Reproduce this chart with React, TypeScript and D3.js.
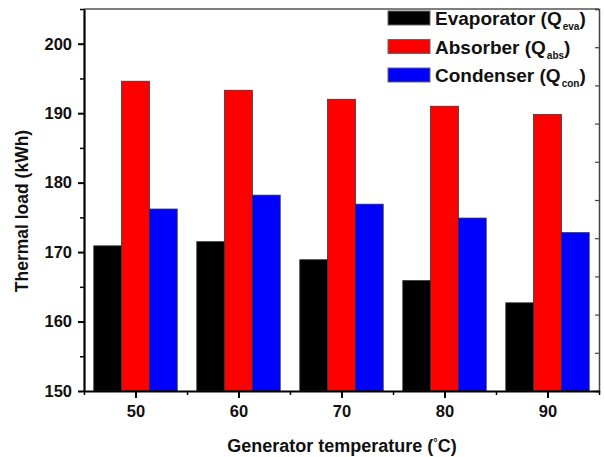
import React, { useEffect, useRef } from 'react';
import * as d3 from 'd3';

// generator temperatures (°C)
const temps = [50, 60, 70, 80, 90];
// thermal loads (kWh)
const evaporator = [170.9, 171.5, 168.9, 165.9, 162.7];
const absorber = [194.6, 193.3, 192.0, 191.0, 189.8];
const condenser = [176.2, 178.2, 176.9, 174.9, 172.8];

const seriesNames = ['Evaporator (Q', 'Absorber (Q', 'Condenser (Q'];
const seriesSubs = ['eva', 'abs', 'con'];
const seriesColors = ['#000000', '#ff0000', '#0000ff'];

const yMajor = [150, 160, 170, 180, 190, 200];
const yMinor = [155, 165, 175, 185, 195, 205];
const xMinor = [45, 55, 65, 75, 85, 95];
const rightTicks = [0, 1, 2, 3, 4, 5, 6, 7, 8, 9, 10];

const FONT = '"Liberation Sans", Arial, sans-serif';

export default function App() {
  const ref = useRef<SVGSVGElement>(null);

  useEffect(() => {
    const width = 605;
    const height = 457;
    const left = 84,
      right = 599,
      top = 9,
      bottom = 391;

    const svg = d3.select(ref.current);
    svg.selectAll('*').remove();

    const x = d3.scaleLinear().domain([45, 95]).range([left, right]);
    const y = d3.scaleLinear().domain([150, 205]).range([bottom, top]);
    const yRight = d3.scaleLinear().domain([0, 10]).range([bottom, top]);

    const bw = 2.7; // bar width in x units
    const series = [evaporator, absorber, condenser];

    // bars
    series.forEach((vals, si) => {
      svg
        .append('g')
        .selectAll('rect')
        .data(vals)
        .join('rect')
        .attr('x', (d, i) => x(temps[i] + (si - 1) * bw - bw / 2))
        .attr('width', x(bw) - x(0))
        .attr('y', (d) => y(d))
        .attr('height', (d) => y(150) - y(d))
        .attr('fill', seriesColors[si])
        .attr('stroke', '#333')
        .attr('stroke-width', 0.8);
    });

    // top and right frame
    svg
      .append('line')
      .attr('x1', left)
      .attr('x2', right)
      .attr('y1', top)
      .attr('y2', top)
      .attr('stroke', '#555')
      .attr('stroke-width', 1.5);

    svg
      .append('g')
      .attr('transform', `translate(${right},0)`)
      .call(d3.axisLeft(yRight).tickValues(rightTicks).tickSize(4).tickFormat(() => ''))
      .call((g) => g.select('.domain').attr('stroke', '#444').attr('stroke-width', 1.5))
      .call((g) => g.selectAll('.tick line').attr('stroke', '#444').attr('stroke-width', 1.2));

    // left axis
    svg
      .append('g')
      .attr('transform', `translate(${left},0)`)
      .call(d3.axisLeft(y).tickValues(yMinor).tickSize(4).tickFormat(() => ''))
      .call((g) => g.select('.domain').remove())
      .call((g) => g.selectAll('.tick line').attr('stroke-width', 1.5));

    svg
      .append('g')
      .attr('transform', `translate(${left},0)`)
      .call(d3.axisLeft(y).tickValues(yMajor).tickSize(6).tickPadding(6).tickSizeOuter(0))
      .call((g) => g.select('.domain').attr('stroke-width', 2.2))
      .call((g) => g.selectAll('.tick line').attr('stroke-width', 2))
      .call((g) =>
        g
          .selectAll('.tick text')
          .attr('font-family', FONT)
          .attr('font-weight', 'bold')
          .attr('font-size', 16.5)
          .attr('fill', '#111')
      );

    // bottom axis
    svg
      .append('g')
      .attr('transform', `translate(0,${bottom})`)
      .call(d3.axisBottom(x).tickValues(xMinor).tickSize(4).tickFormat(() => ''))
      .call((g) => g.select('.domain').remove())
      .call((g) => g.selectAll('.tick line').attr('stroke-width', 1.5));

    svg
      .append('g')
      .attr('transform', `translate(0,${bottom})`)
      .call(d3.axisBottom(x).tickValues(temps).tickSize(7).tickPadding(7).tickSizeOuter(0))
      .call((g) => g.select('.domain').attr('stroke-width', 2.2))
      .call((g) => g.selectAll('.tick line').attr('stroke-width', 2))
      .call((g) =>
        g
          .selectAll('.tick text')
          .attr('font-family', FONT)
          .attr('font-weight', 'bold')
          .attr('font-size', 16.5)
          .attr('fill', '#111')
      );

    // axis titles
    svg
      .append('text')
      .attr('transform', 'translate(28,211) rotate(-90)')
      .attr('text-anchor', 'middle')
      .attr('font-family', FONT)
      .attr('font-weight', 'bold')
      .attr('font-size', 17.5)
      .attr('fill', '#111')
      .text('Thermal load (kWh)');

    const xt = svg
      .append('text')
      .attr('x', 342)
      .attr('y', 452)
      .attr('text-anchor', 'middle')
      .attr('font-family', FONT)
      .attr('font-weight', 'bold')
      .attr('font-size', 18)
      .attr('fill', '#111');
    xt.append('tspan').text('Generator temperature (');
    xt.append('tspan').attr('font-size', 11).attr('dy', -6).text('°');
    xt.append('tspan').attr('dy', 6).text('C)');

    // legend
    const legend = svg.append('g');
    seriesNames.forEach((name, i) => {
      const ly = 11 + i * 28.5;
      legend
        .append('rect')
        .attr('x', 388)
        .attr('y', ly)
        .attr('width', 42)
        .attr('height', 14)
        .attr('fill', seriesColors[i])
        .attr('stroke', '#666')
        .attr('stroke-width', 1);
      const t = legend
        .append('text')
        .attr('x', 435)
        .attr('y', ly + 14)
        .attr('font-family', FONT)
        .attr('font-weight', 'bold')
        .attr('font-size', 19)
        .attr('fill', '#111');
      t.append('tspan').text(name);
      t.append('tspan').attr('font-size', 10).attr('dx', 1).attr('dy', 5).text(seriesSubs[i]);
      t.append('tspan').attr('dy', -5).text(')');
    });

    svg.attr('width', width).attr('height', height);
  }, []);

  return (
    <div style={{ position: 'absolute', left: 0, top: 0 }}>
      <svg ref={ref} width={605} height={457} style={{ display: 'block', background: '#fff' }} />
    </div>
  );
}
